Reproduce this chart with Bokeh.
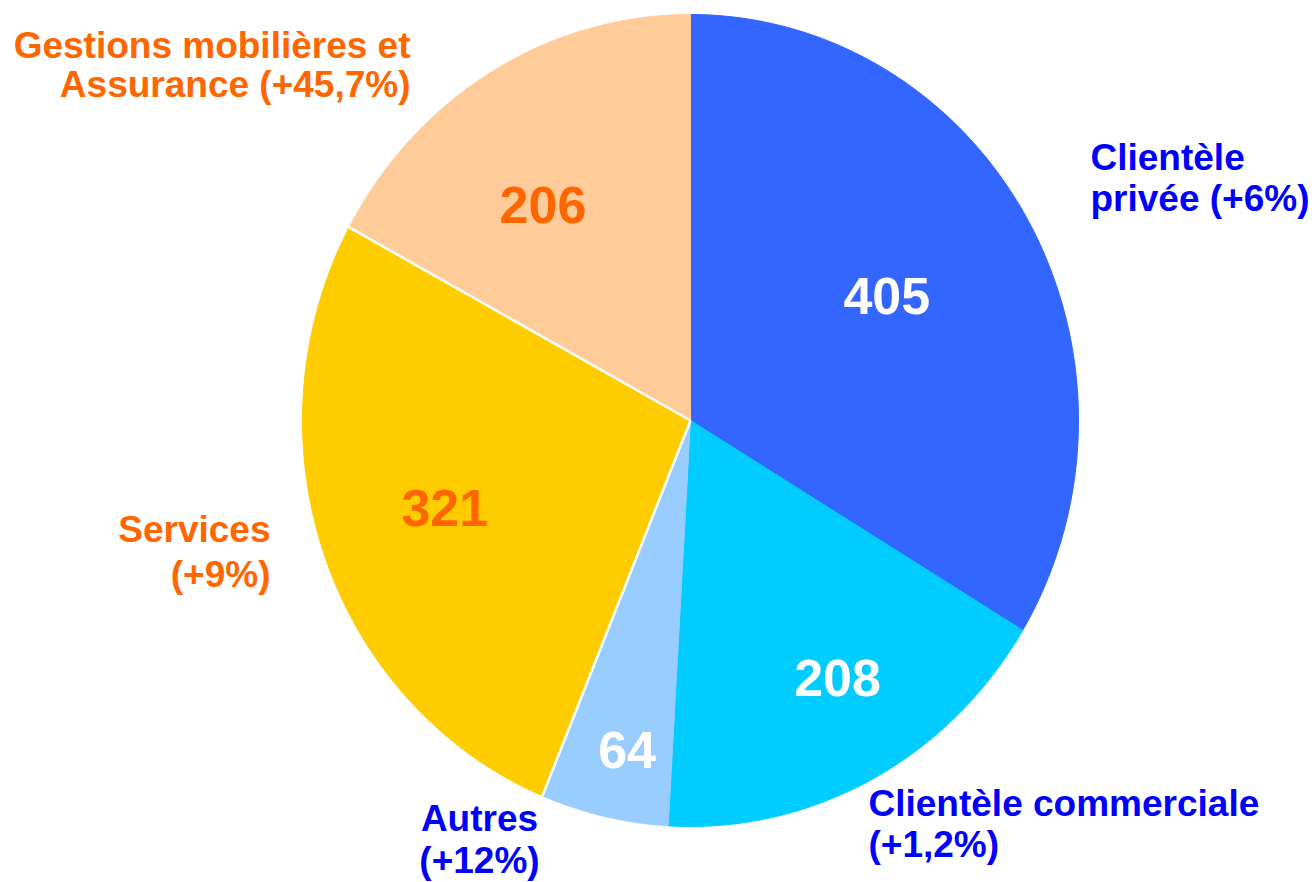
import numpy as np
from bokeh.plotting import figure
from bokeh.models import Range1d
from bokeh.core.properties import value
from bokeh.embed import file_html
from bokeh.resources import INLINE

# ---- data ----
categories = ["Clientèle privée", "Clientèle commerciale", "Autres", "Services",
              "Gestions mobilières et Assurance"]
values = [405, 208, 64, 321, 206]
growth = ["+6%", "+1,2%", "+12%", "+9%", "+45,7%"]
label_line1 = ["Clientèle", "Clientèle commerciale", "Autres", "Services", "Gestions mobilières et"]
label_line2 = ["privée (+6%)", "(+1,2%)", "(+12%)", "(+9%)", "Assurance (+45,7%)"]
slice_colors = ["#3366FF", "#00CCFF", "#99CCFF", "#FFCC00", "#FFCC99"]
number_colors = ["#FFFFFF", "#FFFFFF", "#FFFFFF", "#FF6600", "#FF6600"]
label_colors = ["#0000FF", "#0000FF", "#0000FF", "#FF6600", "#FF6600"]

# ---- layout ----
W, H = 1312, 882
CX, CY = 690, H - 420     # pie centre (y up)
RX, RY = 388, 406         # slightly elliptical pie
num_r = [0.59, 0.74, 0.83, 0.67, 0.65]
num_dang = [-1.5, -3.0, -1.5, 0.5, -5.0]
# outer label anchors (x, baseline1, baseline2, align) in picture px from top-left
lab_pos = [(1090, 157, 198, "left"),
           (868, 803, 844, "left"),
           (479, 818, 860, "center"),
           (270, 529, 574, "right"),
           (410, 45, 84, "right")]

p = figure(width=W, height=H, x_range=Range1d(0, W), y_range=Range1d(0, H),
           output_backend="svg", toolbar_location=None, min_border=0,
           x_axis_location=None, y_axis_location=None)
p.grid.visible = False
p.outline_line_color = None
p.background_fill_color = "white"

total = float(sum(values))
cum = np.concatenate([[0.0], np.cumsum(values)]) / total * 2 * np.pi

xs, ys = [], []
for i in range(len(values)):
    th = np.linspace(cum[i], cum[i + 1], 200)
    xs.append(list(np.concatenate([[CX], CX + RX * np.sin(th), [CX]])))
    ys.append(list(np.concatenate([[CY], CY + RY * np.cos(th), [CY]])))

p.patches(xs=xs, ys=ys, fill_color=slice_colors, line_color=slice_colors, line_width=1)

# white separators between Autres/Services and Services/Gestions
for k in (3, 4):
    th = cum[k]
    p.line([CX, CX + RX * np.sin(th)], [CY, CY + RY * np.cos(th)],
           line_color="white", line_width=2.5)

# value labels
mid = (cum[:-1] + cum[1:]) / 2 + np.radians(num_dang)
nx = CX + RX * np.array(num_r) * np.sin(mid)
ny = CY + RY * np.array(num_r) * np.cos(mid)
p.text(x=list(nx), y=list(ny + 1), text=[str(v) for v in values],
       text_color=number_colors, text_font=value("Liberation Sans"),
       text_font_style="bold", text_font_size="52px",
       text_align="center", text_baseline="middle")

# category labels
for i in range(len(values)):
    x, b1, b2, al = lab_pos[i]
    p.text(x=[x, x], y=[H - b1, H - b2],
           text=[label_line1[i], label_line2[i]],
           text_color=label_colors[i], text_font=value("Liberation Sans"),
           text_font_style="bold", text_font_size="37px",
           text_align=al, text_baseline="alphabetic")

open("out.html", "w").write(file_html(p, INLINE))
